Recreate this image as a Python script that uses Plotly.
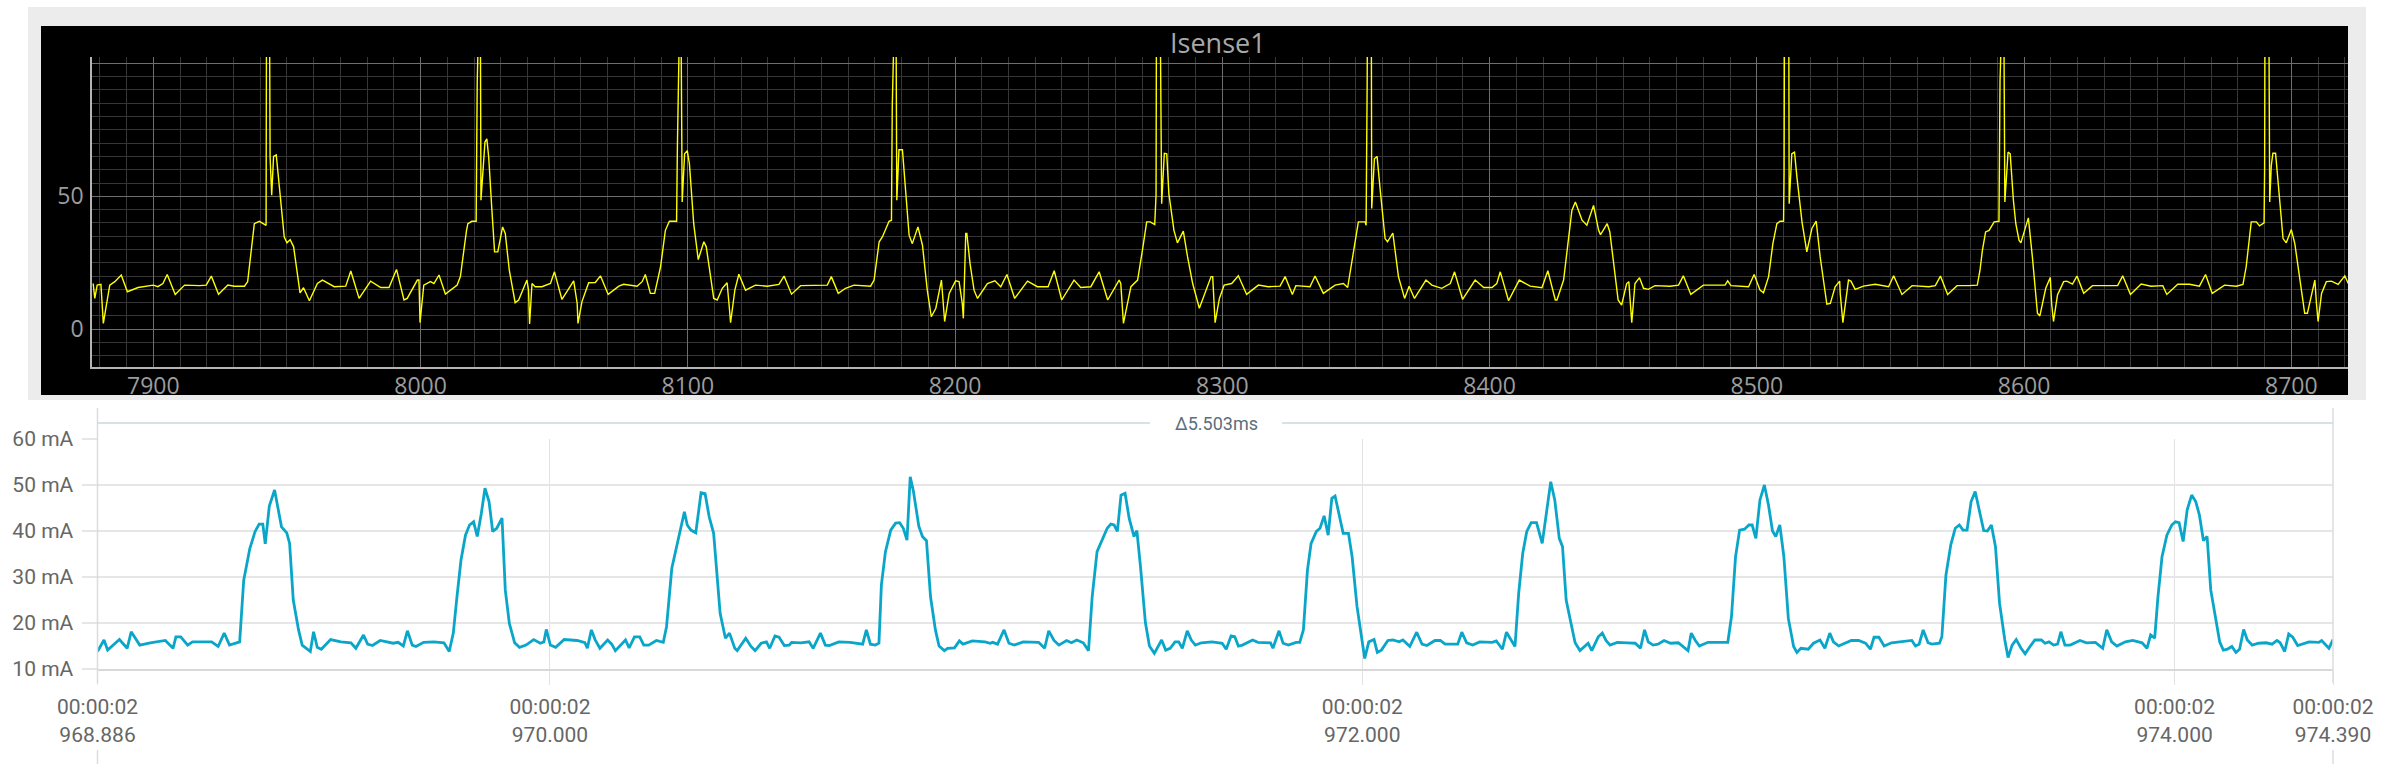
import plotly.graph_objects as go

W, H = 2388, 764

# ---------------- Top panel (Isense1) ----------------
top_x = [
    7877.5, 7878.1, 7879.0, 7880.4, 7881.3, 7882.5, 7883.7, 7885.6, 7888.0, 7890.3,
    7894.3, 7900.0, 7901.7, 7903.6, 7905.2, 7908.2, 7911.7, 7917.3, 7919.8, 7921.7,
    7924.4, 7927.9, 7930.3, 7934.1, 7935.3, 7937.8, 7939.7, 7942.2, 7942.4, 7943.4,
    7943.7, 7944.3, 7945.0, 7946.0, 7947.1, 7949.0, 7950.0, 7951.2, 7952.5, 7954.9,
    7956.2, 7958.4, 7961.4, 7963.3, 7967.7, 7972.0, 7973.9, 7977.0, 7981.3, 7985.1,
    7988.2, 7991.0, 7993.8, 7995.0, 7998.8, 7999.4, 7999.8, 8001.2, 8003.7, 8005.0,
    8006.9, 8009.3, 8013.7, 8014.9, 8017.2, 8017.7, 8019.2, 8020.8, 8021.2, 8021.4,
    8022.3, 8022.6, 8023.3, 8024.1, 8024.8, 8025.5, 8026.7, 8027.7, 8028.9, 8030.7,
    8031.7, 8033.2, 8035.4, 8036.7, 8039.8, 8040.4, 8040.8, 8041.7, 8042.9, 8045.4,
    8048.6, 8050.1, 8052.9, 8057.3, 8058.6, 8058.9, 8060.4, 8062.9, 8065.4, 8067.3,
    8070.2, 8074.2, 8076.0, 8081.0, 8082.9, 8084.1, 8086.0, 8087.6, 8089.8, 8091.6,
    8093.1, 8095.8, 8096.1, 8096.3, 8097.3, 8097.9, 8098.8, 8099.8, 8100.6, 8102.2,
    8102.9, 8103.9, 8106.0, 8106.9, 8109.7, 8111.0, 8112.9, 8114.7, 8115.4, 8116.0,
    8117.6, 8119.1, 8121.6, 8125.3, 8129.7, 8134.1, 8136.0, 8138.8, 8142.2, 8146.6,
    8152.2, 8153.7, 8156.3, 8159.0, 8162.2, 8168.4, 8169.7, 8171.6, 8172.8, 8175.3,
    8176.2, 8176.5, 8176.7, 8177.8, 8178.2, 8179.0, 8180.3, 8181.9, 8182.8, 8184.0,
    8186.1, 8187.8, 8189.6, 8191.1, 8192.8, 8194.9, 8195.6, 8196.1, 8197.8, 8200.2,
    8201.5, 8202.7, 8203.1, 8204.0, 8204.4, 8205.6, 8207.1, 8208.4, 8212.1, 8214.9,
    8217.1, 8219.4, 8222.3, 8227.1, 8230.8, 8234.8, 8237.1, 8239.9, 8244.5, 8247.0,
    8250.8, 8253.9, 8257.1, 8261.4, 8262.0, 8263.0, 8265.8, 8268.3, 8270.1, 8271.7,
    8273.0, 8274.7, 8275.2, 8275.4, 8276.6, 8277.3, 8278.3, 8279.2, 8280.0, 8281.9,
    8283.2, 8285.4, 8287.0, 8288.9, 8291.4, 8295.8, 8296.4, 8297.3, 8298.9, 8300.7,
    8303.5, 8306.0, 8309.1, 8313.5, 8317.2, 8321.6, 8323.5, 8326.2, 8327.5, 8332.8,
    8334.7, 8337.8, 8342.2, 8345.3, 8346.9, 8348.4, 8350.9, 8353.4, 8353.8, 8354.2,
    8354.4, 8355.7, 8355.9, 8356.9, 8357.9, 8359.1, 8360.9, 8361.8, 8363.8, 8365.9,
    8368.2, 8369.9, 8371.9, 8376.2, 8378.4, 8382.1, 8385.3, 8386.9, 8389.9, 8394.6,
    8397.8, 8400.9, 8402.7, 8404.0, 8407.1, 8411.1, 8415.2, 8419.6, 8421.8, 8424.6,
    8425.2, 8427.7, 8429.6, 8430.8, 8432.1, 8434.6, 8436.4, 8438.9, 8440.8, 8441.5,
    8442.5, 8444.0, 8445.0, 8446.8, 8448.1, 8449.4, 8451.3, 8452.1, 8452.6, 8453.2,
    8454.4, 8456.1, 8457.6, 8459.4, 8461.9, 8467.5, 8470.7, 8472.5, 8475.3, 8480.0,
    8488.1, 8489.1, 8490.3, 8494.4, 8496.9, 8499.0, 8501.2, 8502.5, 8504.4, 8506.0,
    8507.5, 8508.7, 8510.0, 8510.2, 8510.4, 8511.9, 8512.1, 8513.1, 8514.1, 8515.0,
    8516.9, 8518.7, 8520.6, 8522.2, 8523.7, 8526.2, 8527.5, 8529.3, 8531.0, 8531.2,
    8532.2, 8534.3, 8535.2, 8536.8, 8539.9, 8544.3, 8549.3, 8551.2, 8554.3, 8558.1,
    8564.3, 8566.8, 8568.7, 8571.4, 8574.9, 8579.3, 8582.5, 8583.5, 8584.4, 8585.6,
    8586.9, 8588.8, 8590.6, 8591.0, 8591.2, 8592.3, 8592.8, 8593.5, 8594.0, 8594.8,
    8596.0, 8596.9, 8598.1, 8598.8, 8601.6, 8603.1, 8603.8, 8605.0, 8605.9, 8608.1,
    8609.8, 8610.3, 8611.0, 8612.5, 8614.8, 8616.0, 8618.1, 8619.8, 8622.3, 8625.6,
    8635.0, 8636.9, 8639.8, 8643.8, 8647.5, 8651.9, 8653.4, 8657.5, 8661.9, 8665.6,
    8667.9, 8670.4, 8675.0, 8679.4, 8681.9, 8683.1, 8685.0, 8686.9, 8688.1, 8689.8,
    8690.0, 8690.2, 8691.5, 8691.9, 8692.5, 8693.1, 8694.1, 8695.6, 8696.9, 8698.1,
    8700.0, 8701.3, 8703.1, 8705.0, 8706.0, 8708.8, 8709.4, 8710.0, 8711.3, 8713.1,
    8715.0, 8717.5, 8720.0, 8721.3,
]
top_y = [
    17.2, 11.6, 16.6, 16.9, 2.2, 9.7, 16.6, 17.9, 20.4, 14.1,
    15.7, 16.6, 16.0, 17.2, 20.6, 13.1, 16.6, 16.4, 16.6, 20.0,
    13.2, 16.6, 16.2, 16.2, 17.9, 39.7, 40.6, 39.1, 140, 140,
    64.7, 50.4, 65.0, 65.6, 54.7, 34.7, 32.5, 33.7, 31.0, 13.7,
    15.6, 10.7, 17.2, 18.5, 16.0, 16.2, 21.9, 11.6, 18.1, 15.7,
    15.7, 22.5, 11.0, 11.6, 18.5, 18.5, 2.5, 16.6, 17.9, 17.2,
    20.4, 13.2, 16.6, 19.8, 37.2, 39.7, 40.6, 40.6, 92.9, 140,
    140, 48.5, 60.4, 70.4, 71.6, 64.7, 44.7, 29.1, 29.1, 38.5,
    36.0, 22.2, 10.0, 11.0, 18.5, 14.7, 2.0, 17.2, 16.0, 16.0,
    17.2, 21.6, 11.2, 18.2, 9.7, 2.2, 10.4, 17.5, 17.6, 20.1,
    13.1, 16.2, 16.9, 16.2, 17.9, 20.6, 13.5, 13.5, 23.5, 37.2,
    40.6, 40.6, 68.5, 140, 140, 47.9, 66.0, 67.2, 62.2, 39.7,
    33.5, 26.2, 32.9, 31.0, 11.6, 11.0, 15.4, 17.5, 9.7, 2.5,
    14.7, 20.7, 14.7, 16.6, 16.2, 16.9, 20.0, 13.2, 16.4, 16.4,
    16.6, 19.8, 13.5, 15.4, 16.6, 16.2, 18.5, 32.9, 34.7, 40.6,
    41.0, 84.0, 140, 140, 48.5, 67.5, 67.5, 48.5, 35.4, 32.2,
    38.5, 31.6, 14.7, 4.7, 7.9, 18.5, 7.2, 2.9, 13.5, 18.2,
    17.9, 9.7, 4.1, 36.0, 36.0, 24.7, 14.7, 11.6, 17.2, 18.2,
    16.0, 20.6, 11.6, 18.1, 16.0, 16.0, 22.0, 11.0, 18.5, 15.7,
    16.0, 21.6, 11.0, 18.5, 17.2, 2.2, 16.0, 18.5, 29.7, 40.4,
    40.4, 39.4, 50.4, 140, 140, 47.2, 66.2, 66.0, 51.0, 37.2,
    32.5, 36.9, 27.2, 17.2, 7.9, 19.8, 19.8, 2.5, 11.6, 16.6,
    17.2, 20.1, 13.1, 16.6, 16.0, 16.2, 19.8, 13.1, 16.4, 16.0,
    20.0, 13.5, 16.6, 17.2, 15.7, 24.7, 40.4, 40.4, 39.1, 93.5,
    140, 140, 45.4, 64.1, 65.0, 52.2, 34.1, 32.9, 36.2, 19.8,
    11.6, 16.2, 11.6, 18.5, 16.6, 15.4, 17.2, 21.6, 11.2, 18.5,
    15.7, 15.7, 17.2, 21.6, 10.7, 18.5, 16.2, 15.6, 22.0, 11.0,
    11.0, 18.5, 35.4, 44.7, 47.9, 41.0, 39.1, 46.6, 37.2, 35.6,
    37.2, 39.7, 36.6, 22.2, 11.0, 9.1, 17.2, 17.9, 9.7, 2.5,
    17.2, 19.4, 15.4, 15.0, 16.4, 16.2, 16.6, 20.1, 13.1, 16.6,
    16.6, 18.2, 16.4, 16.2, 16.0, 20.6, 14.7, 13.7, 19.8, 32.2,
    39.7, 40.6, 40.6, 59.1, 140, 140, 47.2, 66.0, 66.6, 57.2,
    40.4, 29.1, 37.9, 40.7, 27.2, 9.4, 9.7, 16.0, 18.1, 13.5,
    2.5, 18.5, 18.1, 15.0, 16.2, 16.9, 16.0, 20.1, 13.1, 16.4,
    16.0, 16.4, 20.0, 13.1, 16.4, 16.4, 16.6, 22.2, 29.7, 36.6,
    37.2, 40.4, 40.6, 93.5, 140, 140, 47.9, 58.5, 66.6, 66.0,
    48.5, 39.7, 33.5, 32.5, 41.9, 27.2, 18.5, 6.0, 5.0, 15.4,
    19.5, 9.7, 2.9, 12.9, 17.9, 18.1, 17.0, 20.0, 13.5, 16.4,
    16.4, 20.1, 13.1, 17.0, 16.2, 16.4, 13.1, 16.9, 16.9, 16.2,
    20.6, 13.5, 16.6, 16.2, 16.9, 23.5, 40.4, 40.4, 38.9, 40.0,
    60.4, 140, 140, 47.9, 61.6, 66.2, 66.2, 48.5, 34.1, 32.5,
    37.5, 32.2, 18.5, 6.0, 6.0, 18.5, 9.7, 2.9, 13.5, 17.9,
    18.1, 16.9, 20.1, 17.2,
]
top_xticks = [7900, 8000, 8100, 8200, 8300, 8400, 8500, 8600, 8700]
top_yticks = [0, 50, 100]
top_yticklabels = ["0", "50", ""]

# ---------------- Bottom panel (current in mA vs time) ----------------
bot_t = [
    968.886, 968.902, 968.911, 968.940, 968.959, 968.969, 968.990, 969.016, 969.053, 969.072,
    969.079, 969.091, 969.108, 969.120, 969.167, 969.183, 969.198, 969.211, 969.236, 969.246,
    969.261, 969.274, 969.284, 969.293, 969.299, 969.309, 969.322, 969.330, 969.339, 969.352,
    969.359, 969.368, 969.381, 969.390, 969.410, 969.418, 969.427, 969.437, 969.460, 969.485,
    969.510, 969.522, 969.541, 969.551, 969.563, 969.582, 969.601, 969.614, 969.626, 969.639,
    969.649, 969.661, 969.670, 969.689, 969.714, 969.739, 969.752, 969.762, 969.771, 969.781,
    969.792, 969.802, 969.812, 969.821, 969.831, 969.840, 969.850, 969.859, 969.869, 969.882,
    969.890, 969.900, 969.913, 969.925, 969.941, 969.960, 969.976, 969.985, 969.991, 970.001,
    970.014, 970.035, 970.067, 970.086, 970.092, 970.102, 970.111, 970.123, 970.142, 970.152,
    970.161, 970.186, 970.195, 970.208, 970.221, 970.231, 970.243, 970.262, 970.279, 970.287,
    970.300, 970.312, 970.331, 970.338, 970.347, 970.359, 970.372, 970.382, 970.392, 970.403,
    970.419, 970.432, 970.442, 970.455, 970.461, 970.482, 970.495, 970.505, 970.520, 970.533,
    970.541, 970.554, 970.564, 970.577, 970.589, 970.595, 970.618, 970.638, 970.648, 970.666,
    970.678, 970.688, 970.711, 970.739, 970.761, 970.770, 970.779, 970.789, 970.801, 970.810,
    970.816, 970.826, 970.839, 970.851, 970.861, 970.870, 970.879, 970.887, 970.895, 970.908,
    970.917, 970.927, 970.937, 970.949, 970.958, 970.971, 970.979, 970.996, 971.008, 971.017,
    971.040, 971.071, 971.084, 971.090, 971.102, 971.118, 971.130, 971.143, 971.165, 971.203,
    971.218, 971.228, 971.241, 971.253, 971.272, 971.284, 971.297, 971.313, 971.326, 971.335,
    971.347, 971.364, 971.372, 971.381, 971.389, 971.397, 971.406, 971.416, 971.426, 971.438,
    971.445, 971.454, 971.466, 971.476, 971.488, 971.506, 971.516, 971.527, 971.539, 971.548,
    971.557, 971.569, 971.579, 971.589, 971.604, 971.630, 971.655, 971.665, 971.677, 971.686,
    971.695, 971.705, 971.730, 971.743, 971.774, 971.780, 971.795, 971.805, 971.818, 971.837,
    971.846, 971.855, 971.865, 971.874, 971.887, 971.896, 971.906, 971.916, 971.925, 971.933,
    971.943, 971.953, 971.966, 971.975, 971.987, 971.996, 972.006, 972.016, 972.029, 972.037,
    972.047, 972.063, 972.075, 972.091, 972.100, 972.117, 972.134, 972.147, 972.159, 972.179,
    972.192, 972.204, 972.235, 972.245, 972.257, 972.272, 972.289, 972.320, 972.330, 972.345,
    972.355, 972.376, 972.385, 972.395, 972.405, 972.416, 972.429, 972.443, 972.455, 972.464,
    972.474, 972.485, 972.493, 972.502, 972.514, 972.524, 972.536, 972.546, 972.556, 972.565,
    972.581, 972.591, 972.600, 972.610, 972.628, 972.653, 972.672, 972.685, 972.695, 972.704,
    972.716, 972.728, 972.743, 972.759, 972.778, 972.802, 972.810, 972.820, 972.830, 972.851,
    972.870, 972.882, 972.900, 972.909, 972.919, 972.929, 972.941, 972.952, 972.960, 972.969,
    972.979, 972.990, 973.000, 973.010, 973.018, 973.028, 973.038, 973.049, 973.062, 973.070,
    973.080, 973.098, 973.111, 973.127, 973.139, 973.151, 973.160, 973.173, 973.204, 973.222,
    973.239, 973.251, 973.260, 973.272, 973.285, 973.303, 973.328, 973.353, 973.362, 973.371,
    973.381, 973.393, 973.402, 973.421, 973.427, 973.437, 973.449, 973.460, 973.470, 973.479,
    973.489, 973.499, 973.509, 973.520, 973.530, 973.539, 973.549, 973.559, 973.569, 973.582,
    973.590, 973.600, 973.610, 973.622, 973.632, 973.644, 973.656, 973.672, 973.681, 973.691,
    973.702, 973.712, 973.720, 973.730, 973.743, 973.767, 973.783, 973.805, 973.823, 973.833,
    973.845, 973.858, 973.879, 973.897, 973.920, 973.932, 973.941, 973.951, 973.959, 973.969,
    973.981, 973.993, 974.002, 974.011, 974.021, 974.031, 974.042, 974.052, 974.061, 974.071,
    974.080, 974.089, 974.102, 974.111, 974.120, 974.130, 974.141, 974.151, 974.160, 974.170,
    974.179, 974.191, 974.207, 974.225, 974.240, 974.252, 974.260, 974.271, 974.281, 974.291,
    974.303, 974.318, 974.331, 974.355, 974.362, 974.380, 974.390,
]
bot_ma = [
    13.8, 16.3, 14.1, 16.4, 14.5, 18.1, 15.2, 15.7, 16.2, 14.5,
    17.0, 17.0, 15.2, 15.9, 15.9, 14.9, 17.8, 15.2, 15.9, 29.3,
    36.2, 39.9, 41.5, 41.5, 37.2, 45.4, 48.9, 45.4, 40.9, 39.6,
    37.3, 25.0, 18.5, 15.2, 13.8, 18.1, 14.7, 14.3, 16.4, 15.9,
    15.7, 14.5, 17.4, 15.4, 15.1, 16.2, 15.9, 15.6, 15.8, 15.0,
    18.3, 15.2, 14.9, 15.8, 15.9, 15.7, 13.8, 17.8, 25.7, 33.7,
    39.1, 41.3, 42.0, 38.8, 43.8, 49.3, 46.4, 39.9, 40.6, 42.8,
    27.2, 19.9, 15.7, 14.7, 15.2, 16.4, 15.6, 15.9, 18.6, 15.2,
    14.7, 16.4, 16.2, 15.7, 14.5, 18.5, 16.4, 14.5, 16.3, 15.4,
    14.0, 16.3, 14.6, 17.0, 17.0, 15.2, 15.2, 16.2, 15.8, 19.2,
    31.9, 36.6, 44.2, 41.3, 40.2, 39.6, 48.3, 48.1, 43.1, 39.5,
    22.1, 16.7, 17.8, 14.5, 14.0, 16.7, 14.9, 14.0, 15.6, 15.9,
    14.5, 17.2, 16.9, 15.1, 15.2, 15.8, 15.7, 15.9, 14.5, 17.8,
    15.2, 15.1, 15.9, 15.8, 15.4, 15.4, 18.5, 15.4, 15.2, 15.6,
    28.3, 35.5, 40.2, 41.7, 41.8, 40.6, 38.0, 51.8, 48.6, 41.1,
    38.8, 37.9, 25.7, 18.5, 15.0, 14.0, 14.5, 14.6, 16.1, 15.4,
    16.1, 15.9, 15.6, 15.8, 15.4, 18.5, 15.6, 15.2, 15.9, 15.8,
    14.5, 18.3, 16.2, 15.2, 16.2, 15.7, 16.3, 15.7, 14.0, 25.7,
    35.5, 38.8, 40.6, 41.5, 41.3, 39.9, 47.8, 48.2, 42.8, 38.8,
    40.1, 32.2, 20.1, 15.0, 13.4, 16.3, 14.1, 14.5, 15.9, 15.9,
    14.5, 18.3, 16.3, 15.2, 15.7, 15.9, 15.6, 14.3, 17.2, 17.0,
    15.0, 15.2, 16.3, 15.8, 15.7, 14.5, 18.3, 15.6, 15.2, 15.8,
    15.8, 18.5, 31.5, 37.3, 39.9, 40.6, 43.3, 39.1, 47.1, 47.6,
    43.8, 39.5, 39.5, 34.4, 23.6, 17.8, 12.3, 15.9, 16.4, 13.6,
    14.1, 16.2, 16.3, 15.9, 16.3, 14.9, 18.0, 15.4, 15.1, 16.2,
    16.2, 15.4, 15.4, 18.0, 15.7, 15.2, 15.9, 15.8, 16.1, 14.3,
    18.0, 14.9, 26.4, 35.1, 39.9, 41.8, 41.8, 37.3, 45.3, 50.7,
    46.7, 38.4, 36.6, 25.0, 19.9, 15.7, 14.0, 14.9, 15.6, 14.0,
    17.0, 17.8, 16.2, 15.2, 15.8, 15.7, 15.6, 14.5, 18.5, 15.9,
    15.2, 15.4, 16.2, 15.6, 15.7, 14.0, 17.8, 16.2, 15.0, 15.8,
    15.8, 15.9, 15.8, 21.4, 34.4, 40.2, 40.4, 41.3, 41.3, 38.4,
    46.7, 50.0, 45.7, 40.0, 38.8, 41.3, 34.4, 21.0, 14.9, 13.6,
    14.5, 14.3, 15.6, 16.3, 14.5, 17.8, 15.9, 15.0, 16.2, 16.2,
    15.6, 14.3, 16.9, 16.9, 15.0, 15.7, 15.9, 16.2, 15.0, 15.4,
    18.5, 15.7, 15.4, 15.6, 17.0, 30.4, 37.0, 40.6, 41.3, 40.2,
    40.2, 46.4, 48.6, 44.2, 40.1, 40.0, 41.3, 36.6, 24.3, 16.3,
    12.5, 15.2, 16.4, 14.5, 13.3, 14.9, 16.3, 16.3, 15.6, 15.9,
    15.2, 15.4, 18.1, 15.2, 15.2, 16.2, 15.7, 15.8, 14.5, 18.5,
    15.9, 15.0, 15.9, 16.2, 15.7, 14.5, 17.4, 16.7, 25.7, 34.4,
    39.1, 41.3, 42.0, 41.8, 37.7, 44.6, 47.8, 46.4, 43.5, 37.9,
    38.8, 27.2, 20.7, 15.9, 14.1, 14.3, 14.9, 13.6, 14.3, 18.6,
    16.3, 15.2, 15.6, 15.7, 15.4, 16.2, 15.7, 13.8, 17.6, 16.9,
    15.1, 15.6, 15.9, 15.8, 16.2, 14.5, 16.4,
]
bot_xticks = [968.886, 970.000, 972.000, 974.000, 974.390]
bot_xticklabels = ["00:00:02<br>968.886", "00:00:02<br>970.000", "00:00:02<br>972.000",
                   "00:00:02<br>974.000", "00:00:02<br>974.390"]
bot_yticks = [10, 20, 30, 40, 50, 60]
bot_yticklabels = ["10 mA", "20 mA", "30 mA", "40 mA", "50 mA", "60 mA"]
delta_label = "Δ5.503ms"
top_title = "Isense1"


def px(x):
    return x / W


def py(y):
    return 1 - y / H


BL, BR = 97.5, 2333  # bottom plot left/right edges (px)

fig = go.Figure()
fig.add_trace(go.Scatter(x=top_x, y=top_y, mode="lines",
                         line=dict(color="#ffff00", width=1.4),
                         xaxis="x", yaxis="y", hoverinfo="skip"))
fig.add_trace(go.Scatter(x=bot_t, y=bot_ma, mode="lines",
                         line=dict(color="#0aa6c9", width=2.8),
                         xaxis="x2", yaxis="y2", hoverinfo="skip"))

top_font = dict(family="Open Sans", size=23, color="#9c9c9c")
bot_font = dict(family="Roboto", size=21, color="#666666")

fig.update_layout(
    width=W, height=H,
    margin=dict(l=0, r=0, t=0, b=0, autoexpand=False),
    paper_bgcolor="white",
    plot_bgcolor="rgba(0,0,0,0)",
    showlegend=False,
    xaxis=dict(domain=[px(92), px(2348)], range=[7877.06, 8721.2], anchor="y",
               automargin=False,
               tickmode="array", tickvals=top_xticks,
               showgrid=True, gridcolor="#6e6e6e", gridwidth=1,
               minor=dict(tickmode="linear", tick0=0, dtick=10, showgrid=True,
                          gridcolor="#363636", gridwidth=1),
               showline=True, linecolor="#b4b4b4", linewidth=1.5,
               zeroline=False, ticks="", tickfont=top_font, ticklabelstandoff=-2),
    yaxis=dict(domain=[py(367), py(57)], range=[-14.2, 102.4], anchor="x",
               automargin=False,
               tickmode="array", tickvals=top_yticks, ticktext=top_yticklabels,
               showgrid=True, gridcolor="#6e6e6e", gridwidth=1,
               minor=dict(tickmode="linear", tick0=0, dtick=5, showgrid=True,
                          gridcolor="#363636", gridwidth=1),
               showline=True, linecolor="#b4b4b4", linewidth=1.5,
               zeroline=False, ticks="", tickfont=top_font, ticklabelstandoff=2),
    xaxis2=dict(domain=[px(BL), px(BR)], range=[968.886, 974.390], anchor="y2",
                automargin=False,
                tickmode="array", tickvals=bot_xticks, ticktext=bot_xticklabels,
                showgrid=True, gridcolor="#e2e2e2", gridwidth=1,
                ticks="outside", ticklen=14, tickcolor="#e2e2e2", tickwidth=1,
                showline=True, linecolor="#d8d8d8", linewidth=2,
                zeroline=False, tickfont=bot_font, ticklabelstandoff=4),
    yaxis2=dict(domain=[py(669), py(439)], range=[10, 60], anchor="x2",
                automargin=False,
                tickmode="array", tickvals=bot_yticks, ticktext=bot_yticklabels,
                showgrid=True, gridcolor="#e6e6e6", gridwidth=2,
                ticks="outside", ticklen=15, tickcolor="#e6e6e6", tickwidth=2,
                showline=False, zeroline=False, tickfont=bot_font, ticklabelstandoff=4),
)

shapes = [
    dict(type="rect", xref="paper", yref="paper", x0=px(28), x1=px(2366), y0=py(400), y1=py(7),
         fillcolor="#ececec", line=dict(width=0), layer="below"),
    dict(type="rect", xref="paper", yref="paper", x0=px(41), x1=px(2348), y0=py(395), y1=py(26),
         fillcolor="#000000", line=dict(width=0), layer="below"),
    dict(type="line", xref="paper", yref="paper", x0=px(BL), x1=px(BL), y0=py(683), y1=py(408),
         line=dict(color="#dcdcdc", width=1.5)),
    dict(type="line", xref="paper", yref="paper", x0=px(BR), x1=px(BR), y0=py(683), y1=py(408),
         line=dict(color="#dcdcdc", width=1.5)),
    dict(type="line", xref="paper", yref="paper", x0=px(BL), x1=px(1150), y0=py(423), y1=py(423),
         line=dict(color="#cdd7db", width=1.5)),
    dict(type="line", xref="paper", yref="paper", x0=px(1282), x1=px(BR), y0=py(423), y1=py(423),
         line=dict(color="#cdd7db", width=1.5)),
    dict(type="line", xref="paper", yref="paper", x0=px(BL), x1=px(BL), y0=py(764), y1=py(750),
         line=dict(color="#dcdcdc", width=1.5)),
    dict(type="line", xref="paper", yref="paper", x0=px(BR), x1=px(BR), y0=py(764), y1=py(750),
         line=dict(color="#dcdcdc", width=1.5)),
]
fig.update_layout(shapes=shapes)

fig.add_annotation(x=px(1218), y=py(43), xref="paper", yref="paper", text=top_title,
                   showarrow=False, xanchor="center", yanchor="middle",
                   font=dict(family="Open Sans", size=27, color="#a8a8a8"))
fig.add_annotation(x=px(1216), y=py(423), xref="paper", yref="paper", text=delta_label,
                   showarrow=False, xanchor="center", yanchor="middle",
                   font=dict(family="Roboto", size=18, color="#5b6f7c"))

fig.write_html("out.html",
               config={"displayModeBar": False},
               post_script="document.body.style.margin='0px';document.body.style.overflow='hidden';")
